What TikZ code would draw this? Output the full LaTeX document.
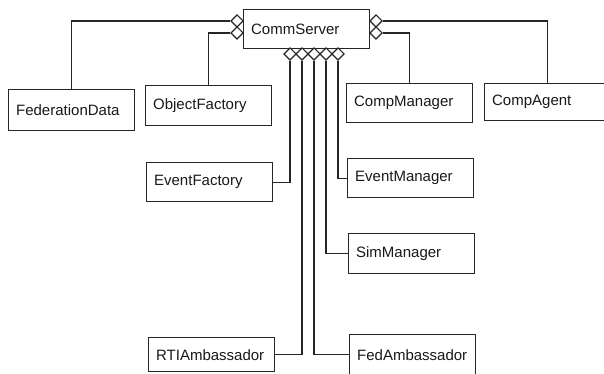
\documentclass[tikz,border=0pt]{standalone}
\usepackage{fontspec}
\setmainfont{Liberation Sans}
\usetikzlibrary{shapes.geometric}
\begin{document}
\begin{tikzpicture}[x=1pt,y=-1pt,
  cls/.style={draw=black!85, line width=1.3pt, anchor=north west, inner xsep=7.5pt, inner ysep=0pt,
    text width=111pt, minimum height=39pt, align=left,
    font=\fontsize{15}{17}\selectfont, text=black!90},
  agg/.style={draw=black!85, fill=white, diamond, aspect=1, minimum size=12.5pt, inner sep=0pt, line width=1.1pt},
  link/.style={draw=black!85, line width=1.3pt}]
\clip (0,0) rectangle (604,374);
\fill[white] (0,0) rectangle (604,374);

% classes
\node[cls] (comm)   at (243,9)   {CommServer};
\node[cls, minimum height=41pt] (fed) at (8,89) {FederationData};
\node[cls, minimum height=40pt] (obj) at (145,85) {ObjectFactory};
\node[cls] (cmgr)   at (346,83)  {CompManager};
\node[cls, minimum height=37pt] (cagent) at (484,83) {CompAgent};
\node[cls] (efac)   at (146,162) {EventFactory};
\node[cls] (emgr)   at (347,158) {EventManager};
\node[cls, minimum height=40pt] (sim) at (348,233) {SimManager};
\node[cls, minimum height=34pt] (rti) at (148,337) {RTIAmbassador};
\node[cls, minimum height=40pt] (fedamb) at (349,334) {FedAmbassador};

% aggregation diamonds on the server
\node[agg] (dl1) at (237,21) {};
\node[agg] (dl2) at (237,33) {};
\node[agg] (dr1) at (376,21) {};
\node[agg] (dr2) at (376,33) {};
\node[agg] (db1) at (290,54) {};
\node[agg] (db2) at (302,54) {};
\node[agg] (db3) at (314,54) {};
\node[agg] (db4) at (326,54) {};
\node[agg] (db5) at (338,54) {};

% connectors
\draw[link] (dl1.west) -| (fed.north);
\draw[link] (dl2.west) -| (obj.north);
\draw[link] (dr1.east) -| (cagent.north);
\draw[link] (dr2.east) -| (cmgr.north);
\draw[link] (db1.south) |- (efac.east);
\draw[link] (db2.south) |- (rti.east);
\draw[link] (db3.south) |- (fedamb.west);
\draw[link] (db4.south) |- (sim.west);
\draw[link] (db5.south) |- (emgr.west);
\end{tikzpicture}
\end{document}
